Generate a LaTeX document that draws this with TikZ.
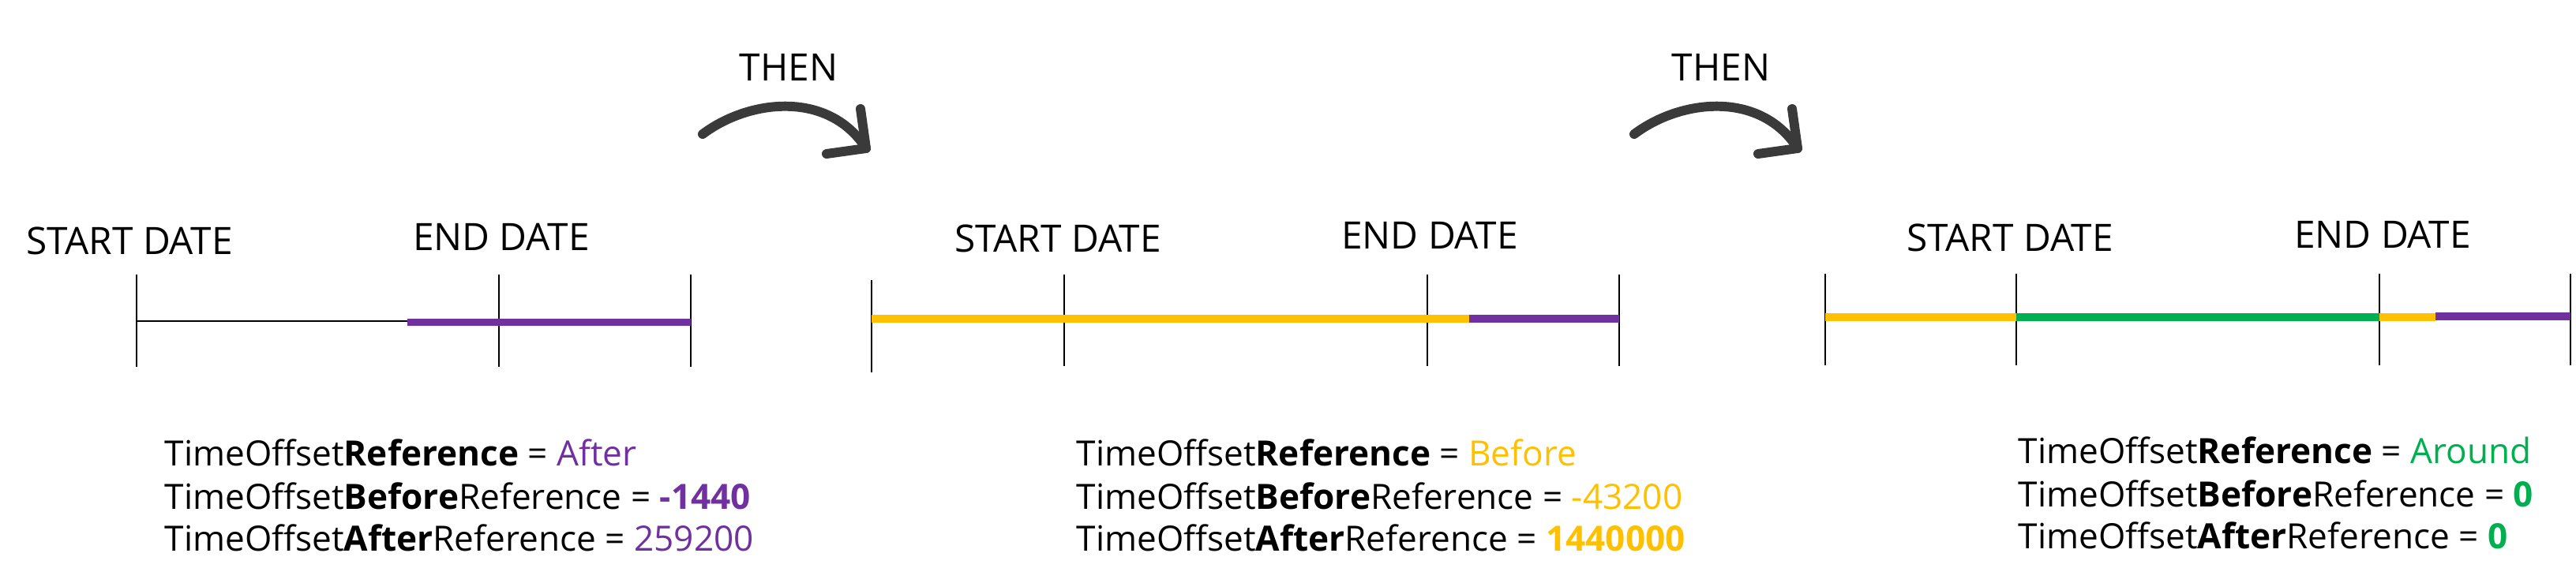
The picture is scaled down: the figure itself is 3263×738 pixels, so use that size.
\documentclass[tikz,border=0pt]{standalone}
\usepackage{fontspec}
\setmainfont{Open Sans}
\definecolor{cpurple}{HTML}{7030A0}
\definecolor{cyellow}{HTML}{FFC000}
\definecolor{cgreen}{HTML}{00B050}
\definecolor{arrowgray}{HTML}{3A3A3A}
\begin{document}
\begin{tikzpicture}[x=0.01cm,y=-0.01cm,
  lbl/.style={font=\fontsize{13.6pt}{16pt}\selectfont, anchor=base, inner sep=0pt},
  info/.style={font=\fontsize{12.55pt}{15.2pt}\selectfont, anchor=base west, inner sep=0pt},
  tickline/.style={line width=0.57pt, black},
  band/.style={line width=2.8pt, line cap=butt},
  thenarrow/.style={line width=3.4pt, arrowgray, line cap=round, line join=round}]
\useasboundingbox (0,0) rectangle (3263,738);

% ---------- THEN arrows ----------
\node[lbl] (then1) at (999,102) {THEN};
\node[lbl] (then2) at (2180,102) {THEN};
\foreach \dx/\nm in {0/a,1180/b}{
  \coordinate (s\nm) at (890+\dx,170);
  \coordinate (t\nm) at (1097+\dx,188);
  \draw[thenarrow] (s\nm) .. controls (950+\dx,125) and (1050+\dx,115) .. (t\nm);
  \draw[thenarrow] (1090+\dx,138) -- (t\nm) -- (1047+\dx,195);
}

% ---------- Timeline 1 ----------
\coordinate (a0) at (173,407);
\coordinate (a1) at (632,407);
\coordinate (a2) at (875,407);
\coordinate (am) at (516,407);
\foreach \p in {a0,a1,a2}{\draw[tickline] ([yshift=0.59cm]\p) -- ([yshift=-0.58cm]\p);}
\draw[line width=0.7pt] (a0) -- (am);
\draw[band,cpurple] ([yshift=-0.015cm]am) -- ([yshift=-0.015cm]a2);
\node[lbl] (start1) at (164,322) {START DATE};
\node[lbl] (end1) at (635,317) {END DATE};

% ---------- Timeline 2 ----------
\coordinate (b0) at (1104,404);
\coordinate (b1) at (1348,404);
\coordinate (b2) at (1808,404);
\coordinate (b3) at (2051,404);
\coordinate (bm) at (1861,404);
\draw[tickline] (1104,355) -- (1104,472);
\foreach \p in {b1,b2,b3}{\draw[tickline] ([yshift=0.56cm]\p) -- ([yshift=-0.6cm]\p);}
\draw[band,cyellow] (b0) -- (bm);
\draw[band,cpurple] (bm) -- (b3);
\node[lbl] (start2) at (1340,319) {START DATE};
\node[lbl] (end2) at (1811,315) {END DATE};

% ---------- Timeline 3 ----------
\coordinate (c0) at (2312,402);
\coordinate (c1) at (2554,402);
\coordinate (c2) at (3014,402);
\coordinate (c3) at (3256,402);
\coordinate (cm) at (3085,402);
\foreach \p in {c0,c1,c2,c3}{\draw[tickline] ([yshift=0.55cm]\p) -- ([yshift=-0.61cm]\p);}
\draw[band,cyellow] (c0) -- (c1);
\draw[band,cgreen] (c1) -- (c2);
\draw[band,cyellow] (c2) -- (cm);
\draw[band,cpurple] ([yshift=0.01cm]cm) -- ([yshift=0.01cm]c3);
\node[lbl] (start3) at (2546,318) {START DATE};
\node[lbl] (end3) at (3018,314) {END DATE};

% ---------- Info texts ----------
\node[info] (i11) at (208,590) {TimeOffset\textbf{Reference} = \textcolor{cpurple}{After}};
\node[info] (i12) at (208,645) {TimeOffset\textbf{Before}Reference = \textcolor{cpurple}{\textbf{-1440}}};
\node[info] (i13) at (208,698) {TimeOffset\textbf{After}Reference = \textcolor{cpurple}{259200}};

\node[info] (i21) at (1363,590) {TimeOffset\textbf{Reference} = \textcolor{cyellow}{Before}};
\node[info] (i22) at (1363,645) {TimeOffset\textbf{Before}Reference = \textcolor{cyellow}{-43200}};
\node[info] (i23) at (1363,698) {TimeOffset\textbf{After}Reference = \textcolor{cyellow}{\textbf{1440000}}};

\node[info] (i31) at (2556,587) {TimeOffset\textbf{Reference} = \textcolor{cgreen}{Around}};
\node[info] (i32) at (2556,642) {TimeOffset\textbf{Before}Reference = \textcolor{cgreen}{\textbf{0}}};
\node[info] (i33) at (2556,695) {TimeOffset\textbf{After}Reference = \textcolor{cgreen}{\textbf{0}}};
\end{tikzpicture}
\end{document}
